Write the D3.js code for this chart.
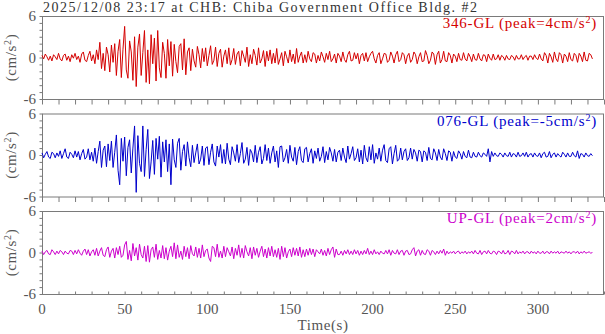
<!DOCTYPE html>
<html>
<head>
<meta charset="utf-8">
<script src="https://cdn.jsdelivr.net/npm/d3@7"></script>
<style>
  html, body { margin: 0; padding: 0; background: #fff; }
  svg { display: block; }
  text { font-family: "Liberation Serif", "DejaVu Serif", serif; }
</style>
</head>
<body>
<svg id="chart" width="605" height="334"></svg>
<script>
// sample interval (s)
const DT = 1

const titleText = '2025/12/08 23:17 at CHB: Chiba Government Office Bldg. #2'
const componentNames = ['346-GL', '076-GL', 'UP-GL']
const peakValues = ['4', '-5', '2']
const componentColors = ['#d40000', '#0000cc', '#cc00cc']
const xTicks = [0, 50, 100, 150, 200, 250, 300]
const yTicks = [-6, 0, 6]

// 346-GL acceleration (cm/s^2), one sample per second
const acc346 = [
  0.3,-0.2,0.5,0.1,-0.4,0.2,-0.5,0.4,0.1,-0.3,0.6,-0.2,-0.5,0.3,0.5,-0.4,0.2,-0.6,0.4,-0.1,
  0.6,-0.3,0.2,-0.7,0.5,0.8,-0.4,-0.6,0.3,0.9,-0.5,0.4,-0.9,1.1,-0.3,2.2,-1.6,0.6,-1.9,1.5,
  0.4,-2.1,1.8,-0.7,2.0,-2.6,0.9,2.6,-2.9,1.2,4.5,-1.8,-3.0,2.4,0.8,-3.3,3.0,-4.2,1.5,3.4,
  -2.6,0.7,3.9,-3.6,1.1,-3.8,3.3,-0.9,2.8,-3.4,3.9,-1.5,-2.9,2.2,0.6,-3.0,2.6,-1.2,2.3,-2.7,
  1.9,-0.6,-2.2,1.6,2.0,-1.8,2.7,-2.5,0.8,1.4,-1.9,1.2,-0.5,-1.4,1.6,0.4,-1.5,1.3,-0.6,1.4,
  -1.2,0.3,1.7,-1.0,-0.4,1.5,-1.3,0.6,1.2,-1.4,0.2,1.1,-0.9,1.4,-1.1,-0.3,1.3,-1.0,0.5,0.9,
  -1.2,1.0,0.2,-0.7,1.5,-1.3,0.4,-0.9,1.2,0.3,-1.1,1.4,-0.8,-0.2,1.0,-1.3,0.9,-0.5,1.1,-0.9,
  0.6,-0.8,1.3,-1.0,-0.2,0.7,-1.2,0.9,0.1,-0.8,1.1,-0.6,0.5,-0.9,1.3,-0.7,0.2,0.8,-0.8,0.4,
  -0.7,0.9,-0.2,-0.6,0.7,0.5,-0.8,0.3,-0.5,0.8,0.1,-0.7,0.6,-0.3,0.9,-0.6,-0.2,0.5,-0.8,0.6,
  0.2,-0.6,0.8,-0.3,-0.7,0.4,0.9,-0.5,-0.4,0.7,-0.2,0.6,-0.9,0.3,0.6,-0.5,0.7,-0.6,0.1,0.6,
  0.9,-0.2,-0.8,0.3,0.7,-0.9,-0.2,0.6,0.5,-0.7,-0.4,0.8,0.2,-0.8,0.4,0.9,-0.6,-0.3,0.7,0.4,
  -0.9,0.2,0.6,-0.7,-0.3,0.8,0.4,-0.9,0.1,0.7,-0.6,-0.5,1.0,0.3,-0.9,-0.4,0.8,0.5,-1.0,0.4,
  0.9,-0.8,-0.3,0.9,-0.5,-0.6,0.7,0.3,-0.8,0.5,0.2,-0.6,0.6,-0.3,-0.4,0.7,-0.2,-0.5,0.6,0.1,
  -0.6,0.5,-0.3,-0.4,0.6,-0.2,-0.5,0.4,0.3,-0.6,0.5,-0.1,-0.4,0.5,-0.3,-0.2,0.4,-0.4,0.3,0.1,
  -0.4,0.3,-0.2,-0.3,0.3,0.1,-0.4,0.3,-0.2,-0.2,0.4,-0.3,0.1,0.3,-0.4,0.2,0.2,-0.3,0.4,-0.1,
  -0.3,0.5,-0.2,-0.5,0.7,0.3,-0.8,0.6,0.1,-0.7,0.8,-0.2,-0.6,0.7,0.4,-0.8,0.5,0.2,-0.6,0.7,
  -0.3,-0.5,0.6,0.3,-0.7,0.6,0.2,-0.6,0.8,-0.4,-0.5,0.6,0.4,-0.2
]

// 076-GL acceleration (cm/s^2)
const acc076 = [
  0.3,-0.4,0.1,0.5,-0.3,-0.5,0.4,0.2,-0.4,0.3,-0.2,0.6,-0.5,0.2,0.9,-0.3,-0.5,0.4,0.1,-0.4,
  0.6,-0.3,0.5,-0.7,0.2,0.8,-0.6,-0.3,0.9,-0.7,0.4,-0.9,1.0,-1.2,0.5,2.0,-1.8,0.7,1.3,-1.7,
  1.6,-0.8,2.0,-1.8,0.4,2.9,-2.2,-4.3,2.4,-0.9,2.6,-3.0,1.1,2.2,-2.6,1.0,4.2,-5.4,2.8,-1.2,
  -2.4,4.2,-3.1,0.8,3.7,-3.4,-1.0,2.1,-2.8,2.4,-0.6,2.7,-3.2,1.9,-1.0,2.2,-2.4,1.6,-4.3,2.3,
  -0.7,-1.8,1.7,2.4,-2.2,0.5,1.5,-1.6,1.9,-0.4,-1.7,1.4,-1.1,0.3,1.6,-1.3,-0.6,1.3,-1.5,1.0,
  1.2,-1.4,0.4,1.6,-1.0,-1.6,1.3,-0.3,1.5,-1.2,0.8,-1.3,1.7,-0.6,-1.4,1.2,0.3,-0.9,1.5,-1.1,
  0.2,1.8,-1.2,-0.6,1.1,-1.5,0.8,0.3,-1.0,1.4,-1.1,0.4,1.2,-1.3,-0.5,1.5,-0.8,1.0,-1.2,0.3,
  1.3,-1.0,0.6,-1.8,1.2,1.3,-1.0,-0.4,0.8,-1.2,1.4,-0.3,-0.9,1.1,-1.4,0.5,1.2,-0.8,-1.1,0.9,
  1.1,-1.0,0.2,0.9,-1.2,0.6,-0.5,1.0,-0.9,-0.2,1.2,-1.1,0.5,-0.7,1.1,0.3,-0.9,0.8,-1.0,0.4,
  0.7,-0.8,1.0,-0.3,-1.1,1.3,-0.6,0.2,1.2,-0.8,-0.4,0.9,-1.0,0.7,-1.3,1.4,-0.4,-1.0,1.2,-0.7,
  1.5,-1.2,0.3,-0.6,1.0,-0.9,0.7,1.5,-0.8,-1.1,0.9,1.2,-1.3,0.2,1.4,-0.9,-0.6,1.0,-0.7,0.5,
  0.9,-0.8,-0.4,1.0,-0.6,0.8,0.3,-0.9,0.7,0.5,-1.0,0.6,0.4,-0.8,1.1,-0.5,-0.7,0.9,0.3,-0.8,
  0.8,-0.3,-0.7,0.9,0.2,-0.8,0.6,0.4,-0.9,0.5,-0.3,-0.5,0.6,0.2,-0.6,0.5,-0.2,-0.4,0.7,-0.3,
  -0.4,0.4,-0.2,-0.3,0.4,-0.1,-0.3,0.3,0.1,-0.2,0.9,-1.0,0.5,-0.2,0.3,-0.1,-0.2,0.3,0.1,-0.3,
  0.3,-0.1,-0.2,0.4,-0.3,0.2,0.1,-0.3,0.4,-0.2,-0.1,0.3,-0.2,0.4,-0.3,0.1,0.2,-0.3,0.3,-0.1,
  -0.2,0.3,-0.4,0.2,0.4,-0.3,-0.2,0.5,-0.4,0.1,0.3,-0.3,0.2,-0.1,-0.3,0.4,0.1,-0.3,0.3,-0.2,
  -0.2,0.4,-0.1,-0.3,0.6,-0.5,0.2,0.1,-0.3,0.3,-0.1,-0.2,0.2,-0.1
]

// UP-GL acceleration (cm/s^2)
const accUP = [
  0.2,-0.3,0.1,0.3,-0.2,-0.3,0.4,0.1,-0.3,0.2,-0.2,0.3,0.1,-0.3,0.2,-0.1,-0.2,0.3,0.2,-0.3,
  0.3,-0.2,0.4,-0.1,-0.4,0.2,0.5,-0.3,0.4,-0.5,0.1,0.4,-0.4,0.6,-0.5,0.2,0.7,-0.4,-0.6,0.4,
  0.8,-0.7,0.2,0.6,-0.8,0.7,-0.3,0.9,-0.7,-0.4,1.1,1.6,-1.0,0.3,-1.2,1.3,-0.5,0.7,-1.1,1.2,
  -0.3,-0.8,0.9,-1.3,1.0,-1.4,0.4,0.8,-0.7,1.2,-1.0,0.3,-0.8,1.0,-0.9,0.7,-1.1,0.2,0.9,-0.6,
  1.4,-0.9,1.1,-0.7,0.2,-1.0,0.9,-0.6,0.7,-0.9,1.0,-0.2,-0.5,0.8,-0.7,0.6,-0.8,1.1,-0.6,0.3,
  0.5,-0.8,-1.3,0.9,0.7,-0.6,1.2,-0.7,0.2,-0.8,0.9,-0.6,0.7,0.1,-0.5,0.8,-0.9,0.6,-0.4,1.1,
  -0.7,0.6,-0.8,1.0,0.1,-0.5,0.7,-0.9,0.8,-0.4,0.6,-0.7,0.2,0.9,-0.6,0.5,-0.8,0.7,-0.5,0.9,
  -0.6,0.4,-0.7,0.6,-1.0,0.9,-0.6,0.7,-0.8,0.1,0.5,-0.6,0.7,-0.4,0.6,-0.5,0.8,-0.7,0.4,-0.6,
  0.5,-0.4,0.6,-0.3,0.5,-0.6,0.4,0.1,-0.2,0.5,-0.4,0.3,-0.5,0.6,-0.3,0.4,0.8,-0.7,0.5,-0.3,
  -0.3,0.2,-0.4,0.3,-0.2,0.4,-0.3,0.2,-0.3,0.4,-0.2,0.3,-0.4,0.2,-0.3,0.3,-0.2,0.6,-0.3,0.2,
  -0.3,0.4,-0.2,0.1,-0.3,0.2,-0.1,-0.2,0.3,-0.2,0.4,-0.4,0.3,-0.1,-0.2,0.4,-0.3,0.2,0.3,-0.4,
  0.2,0.3,-0.3,-0.2,0.4,0.7,-0.5,0.2,0.4,-0.4,0.3,-0.2,-0.3,0.4,0.2,-0.4,0.3,0.1,-0.3,0.2,
  -0.2,0.3,-0.1,0.5,-0.4,0.2,-0.2,0.1,-0.1,0.2,-0.2,0.1,0.2,-0.2,0.1,-0.1,0.2,-0.2,0.1,-0.1,
  0.2,-0.2,0.3,-0.1,-0.2,0.3,-0.3,0.1,0.2,-0.2,0.3,-0.1,-0.2,0.2,0.1,-0.3,0.2,0.1,-0.2,0.3,
  -0.2,-0.1,0.3,-0.3,0.2,0.1,-0.2,0.3,-0.2,0.1,-0.1,0.2,-0.2,0.1,0.1,-0.2,0.2,-0.1,0.1,-0.2,
  0.2,-0.1,-0.1,0.2,-0.2,0.1,0.1,-0.2,0.2,-0.1,0.1,-0.1,0.2,-0.2,0.1,0.0,-0.1,0.2,-0.1,0.1,
  -0.2,0.1,0.1,-0.1,0.2,-0.2,0.1,-0.1,0.2,-0.1,0.0,0.1,-0.1,0.0
]

const traces = [acc346, acc076, accUP]

const left = 42, right = 604
const panelTops = [16, 113.5, 211]
const PANEL_H = 83
const axisColor = '#7a7a7a'
const textColor = '#555'

const svg = d3.select('#chart')

const x = d3.scaleLinear().domain([0, 340]).range([left, right])

svg.append('text')
    .attr('x', 43)
    .attr('y', 12)
    .attr('font-size', 14)
    .attr('letter-spacing', 1.5)
    .attr('fill', '#333')
    .text(titleText)

traces.forEach((values, i) => {
    const top = panelTops[i]
    const y = d3.scaleLinear().domain([-6, 6]).range([top + PANEL_H, top])
    const g = svg.append('g')

    // frame
    g.append('rect')
        .attr('x', left + 0.5)
        .attr('y', top + 0.5)
        .attr('width', right - left - 1)
        .attr('height', PANEL_H)
        .attr('fill', 'none')
        .attr('stroke', axisColor)

    // waveform
    g.append('path')
        .datum(values)
        .attr('fill', 'none')
        .attr('stroke', componentColors[i])
        .attr('stroke-width', 1)
        .attr('stroke-linejoin', 'round')
        .attr('d', d3.line()
            .x((d, k) => x(k * DT))
            .y(d => y(d)))

    // y axis
    g.append('g')
        .attr('transform', `translate(${left + 0.5},0)`)
        .call(d3.axisLeft(y).tickValues(d3.range(-6, 7, 1)).tickSize(3).tickFormat(''))
        .call(s => s.select('.domain').remove())
        .call(s => s.selectAll('line').attr('stroke', axisColor))
    g.selectAll('.ylab')
        .data(yTicks)
        .enter()
        .append('text')
        .attr('x', 36)
        .attr('y', d => y(d) + 5)
        .attr('text-anchor', 'end')
        .attr('font-size', 15)
        .attr('fill', textColor)
        .text(d => d)

    // x ticks
    const inward = i === 2
    g.append('g')
        .attr('transform', `translate(0,${top + PANEL_H + 0.5})`)
        .call(d3.axisBottom(x).tickValues(d3.range(0, 341, 10)).tickSize(inward ? -3 : 5).tickFormat(''))
        .call(s => s.select('.domain').remove())
        .call(s => s.selectAll('line').attr('stroke', axisColor))

    // y label
    const yl = g.append('text')
        .attr('transform', `translate(16,${top + PANEL_H / 2}) rotate(-90)`)
        .attr('text-anchor', 'middle')
        .attr('font-size', 15)
        .attr('letter-spacing', 0.6)
        .attr('fill', textColor)
    yl.append('tspan').text('(cm/s')
    yl.append('tspan').attr('dy', -5).attr('font-size', 10).text('2')
    yl.append('tspan').attr('dy', 5).text(')')

    // component label
    const lab = g.append('text')
        .attr('x', 597)
        .attr('y', top + 12)
        .attr('text-anchor', 'end')
        .attr('font-size', 15)
        .attr('letter-spacing', 0.8)
        .attr('fill', componentColors[i])
    lab.append('tspan').text(`${componentNames[i]} (peak=${peakValues[i]}cm/s`)
    lab.append('tspan').attr('dy', -5).attr('font-size', 10).text('2')
    lab.append('tspan').attr('dy', 5).text(')')
})

// x tick labels under bottom panel
const lastBottom = panelTops[2] + PANEL_H
svg.selectAll('.xlab')
    .data(xTicks)
    .enter()
    .append('text')
    .attr('x', d => x(d))
    .attr('y', lastBottom + 20)
    .attr('text-anchor', 'middle')
    .attr('font-size', 15)
    .attr('fill', textColor)
    .text(d => d)

svg.append('text')
    .attr('x', 323)
    .attr('y', 330)
    .attr('text-anchor', 'middle')
    .attr('font-size', 15)
    .attr('letter-spacing', 0.6)
    .attr('fill', textColor)
    .text('Time(s)')
</script>
</body>
</html>
